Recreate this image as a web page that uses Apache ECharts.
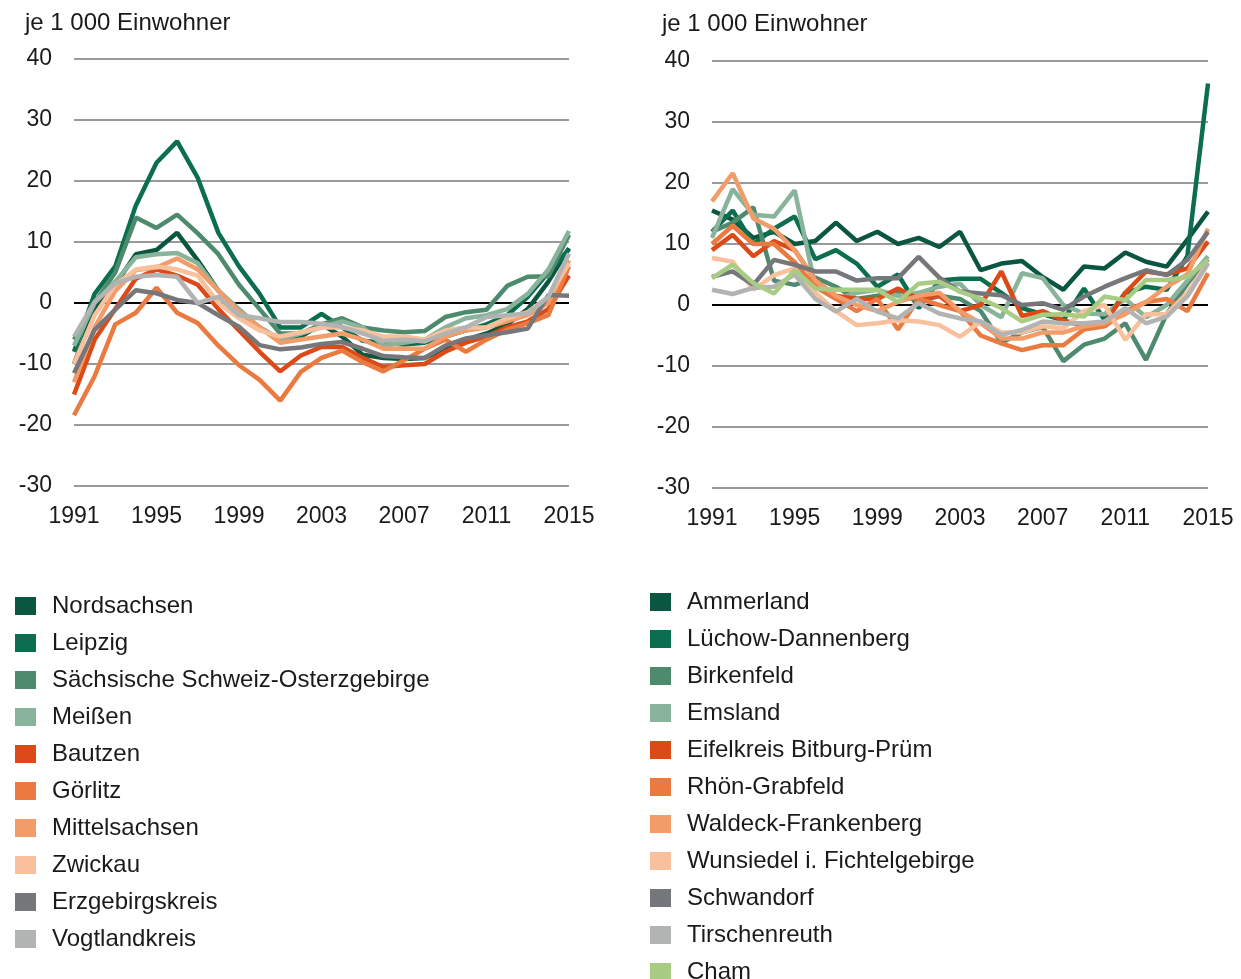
<!DOCTYPE html>
<html><head><meta charset="utf-8">
<script src="https://cdn.jsdelivr.net/npm/echarts@6/dist/echarts.min.js"></script>
<style>html,body{margin:0;padding:0;background:#fff}#c{width:1241px;height:979px}</style>
</head><body><div id="c"></div>
<script>
const years = ['1991','1992','1993','1994','1995','1996','1997','1998','1999','2000','2001','2002','2003','2004','2005','2006','2007','2008','2009','2010','2011','2012','2013','2014','2015'];
const unitLabel = 'je 1 000 Einwohner';

// Left chart (Sachsen)
const leftNames = ['Nordsachsen','Leipzig','Sächsische Schweiz-Osterzgebirge','Meißen','Bautzen','Görlitz','Mittelsachsen','Zwickau','Erzgebirgskreis','Vogtlandkreis'];
const nordsachsen = [-10,-1,3,8,8.7,11.5,7,2,-1.5,-4,-6,-5.5,-3.5,-5.5,-8.5,-9,-9.2,-9,-7.5,-6,-5,-3.5,-1,3.5,9];
const leipzig = [-8,1.5,6,16,23,26.5,20.5,11.5,6,1.5,-4,-4,-1.8,-4,-6.2,-6.5,-6.8,-6.5,-5.5,-4.5,-3.5,-2,1,5,8.8];
const saechsSchweiz = [-6,0,5,14,12.3,14.5,11.4,8,3,-1,-5,-5,-3.5,-2.5,-4,-4.5,-4.8,-4.6,-2.3,-1.5,-1.1,2.8,4.3,4.4,11.2];
const meissen = [-7,0,3.5,7.5,8,8.2,6.5,2,-1,-4,-6,-5,-4,-3,-4,-7,-6.5,-6,-4,-2.5,-2,-1,1.5,5.5,11.8];
const bautzen = [-15,-6,-1,4,5.5,4.5,3,-1,-4.5,-8,-11.2,-8.6,-7.2,-7.2,-9,-10.5,-10.2,-10,-8,-6.5,-5.5,-4,-3,-1,4.5];
const goerlitz = [-18.4,-12,-3.5,-1.6,2.5,-1.6,-3.3,-7,-10.2,-12.6,-16,-11.3,-9,-7.8,-9.7,-11.2,-9.4,-7.5,-6,-8,-6,-4.4,-3.3,-2,6];
const mittelsachsen = [-13,-4,2,5.4,5.8,7.3,5.5,2,-1.5,-4,-6.5,-6,-5.5,-5,-6,-7.5,-7.5,-7.5,-5.5,-4.5,-4,-3,-2,0,7];
const zwickau = [-10,-2,3,5.5,6,5.5,4.5,0,-2.5,-4.5,-5.5,-4.8,-4,-4,-4.5,-5.5,-5.5,-6,-4.5,-4,-4,-2.5,-1.5,1,6.5];
const erzgebirge = [-11.5,-4.4,-1.1,2.1,1.6,0.5,0,-2,-3.9,-6.9,-7.6,-7.3,-6.7,-6.4,-7.5,-8.7,-8.9,-9,-7,-5.8,-5.3,-4.8,-4.2,1.3,1.2];
const vogtland = [-5.5,0.2,3.2,4.3,4.6,4.3,0,1,-2,-2.5,-3.1,-3.1,-3.4,-3.9,-5,-6.2,-6,-6.3,-5,-4,-2.3,-2,-1.7,1,8.1];
const leftValues = [nordsachsen,leipzig,saechsSchweiz,meissen,bautzen,goerlitz,mittelsachsen,zwickau,erzgebirge,vogtland];
const leftColors = ['#0b5641','#0a6e4f','#4e8a6e','#8ab39b','#dc4a18','#ea7a40','#f29c6a','#f8c09c','#76777b','#b2b3b3'];

// Right chart (West)
const rightNames = ['Ammerland','Lüchow-Dannenberg','Birkenfeld','Emsland','Eifelkreis Bitburg-Prüm','Rhön-Grabfeld','Waldeck-Frankenberg','Wunsiedel i. Fichtelgebirge','Schwandorf','Tirschenreuth','Cham'];
const ammerland = [15.5,14,11,12,10,10.5,13.5,10.5,12,10,11,9.5,12,5.7,6.8,7.2,4.6,2.5,6.3,6,8.6,7.1,6.3,10.7,15.3];
const luechow = [12,15.5,10,12.5,14.5,7.5,9,6.8,3,5,-0.5,4,4.3,4.3,2,-0.5,-1.5,-2.5,2.7,-2.5,2,3,2.5,8,36.3];
const birkenfeld = [12,13.5,16,4,3.3,4.5,3,1,1.5,2,0.5,1.5,1,-1,-6.2,-4.5,-3.6,-9.2,-6.5,-5.5,-3,-9,-1.5,3.5,7.5];
const emsland = [11,19,14.8,14.5,18.8,3,1,2,2.5,1.5,2,3,3.5,0,-2,5.2,4.4,0,-1.4,-1.5,1,-2,0,4,8];
const eifel = [9,11.5,8,10.5,9,4,1.5,1,1,2.7,1,1.5,-1,0,5.5,-1.8,-1,-2.5,-3.5,-3,2,5.5,5,6,10.4];
const rhoen = [10,13,10,10,7,3,1,-1,1,-4,1,0,-1,-5,-6.3,-7.4,-6.6,-6.6,-4,-3.5,-1,0.5,1,-1,5.2];
const waldeck = [17,21.6,14.2,12.5,9,4,1.5,0,-1,0.5,1.5,2,-1,-3,-5.5,-5.5,-4.5,-4.5,-3.5,-3,-1.5,0.5,3,5,12.5];
const wunsiedel = [7.7,7.1,2.5,4.9,6,2,-1,-3.3,-3,-2.5,-2.7,-3.3,-5.2,-2.7,-4.5,-4.5,-3.5,-3.8,-1,0,-5.7,-1.5,-1.5,2,7];
const schwandorf = [4.6,5.5,3.3,7.4,6.6,5.5,5.5,4,4.4,4.4,7.9,4.5,2.2,1.9,1.6,0,0.3,-0.8,1.4,3,4.4,5.7,4.9,7.4,12];
const tirschenreuth = [2.5,1.8,2.8,3,5,1,-1.1,1,-1.1,-2.2,0.3,-1.4,-2.2,-2.7,-4.9,-4.1,-2.7,-3,-3,-2.7,-0.5,-3,-1.9,1.4,6.8];
const cham = [4.4,6.6,3.6,1.9,5.7,2.7,2.5,2.5,2.5,0.5,3.5,3.8,2.2,1,-0.5,-2.7,-1.6,-1.5,-1.9,1.4,0.8,4.1,4.1,4.6,7.4];
const rightValues = [ammerland,luechow,birkenfeld,emsland,eifel,rhoen,waldeck,wunsiedel,schwandorf,tirschenreuth,cham];
const rightColors = ['#0b5641','#0a6e4f','#4e8a6e','#8ab39b','#dc4a18','#ea7a40','#f29c6a','#f8c09c','#76777b','#b2b3b3','#a9cc84'];

const FONT = '"Liberation Sans", Arial, sans-serif';
const TXT = '#1a1a1a';
const chart = echarts.init(document.getElementById('c'), null, {renderer:'canvas'});

function xAx(i){
  return {type:'category', gridIndex:i, data:years, boundaryGap:false,
    axisLine:{show:false}, axisTick:{show:false}, splitLine:{show:false},
    axisLabel:{interval:3, color:TXT, fontFamily:FONT, fontSize:23, margin:19, showMaxLabel:true}};
}
function yAx(i){
  return {type:'value', gridIndex:i, min:-30, max:40, interval:10,
    axisLine:{show:false}, axisTick:{show:false},
    axisLabel:{color:TXT, fontFamily:FONT, fontSize:23, margin:22, padding:[4,0,0,0]},
    splitLine:{show:true, lineStyle:{width:2, color:['#9a9a9a','#9a9a9a','#9a9a9a','#000000','#9a9a9a','#9a9a9a','#9a9a9a','#9a9a9a']}}};
}
const series = [];
leftNames.forEach((n,k)=>series.push({name:n, type:'line', xAxisIndex:0, yAxisIndex:0, data:leftValues[k], symbol:'none', lineStyle:{width:4.5, color:leftColors[k]}, itemStyle:{color:leftColors[k]}}));
rightNames.forEach((n,k)=>series.push({name:n, type:'line', xAxisIndex:1, yAxisIndex:1, data:rightValues[k], symbol:'none', lineStyle:{width:4.5, color:rightColors[k]}, itemStyle:{color:rightColors[k]}}));

function legend(names, left, top){
  return {data:names.map(n=>({name:n, icon:'rect'})), orient:'vertical', left:left, top:top, padding:0,
    itemWidth:21, itemHeight:18, itemGap:13, selectedMode:false,
    textStyle:{color:TXT, fontFamily:FONT, fontSize:24, lineHeight:24, padding:[0,0,0,11]}};
}

chart.setOption({
  animation:false,
  title:[
    {text:unitLabel, left:25, top:11, padding:0, textStyle:{color:TXT, fontFamily:FONT, fontSize:24, fontWeight:'normal'}},
    {text:unitLabel, left:662, top:12, padding:0, textStyle:{color:TXT, fontFamily:FONT, fontSize:24, fontWeight:'normal'}}
  ],
  grid:[
    {left:74, width:495, top:59, height:427},
    {left:712, width:496, top:61, height:427}
  ],
  xAxis:[xAx(0), xAx(1)],
  yAxis:[yAx(0), yAx(1)],
  legend:[
    legend(leftNames, 15, 594),
    legend(rightNames.slice(0,10), 650, 590),
    legend(rightNames.slice(10), 650, 960)
  ],
  series:series
});
</script></body></html>
